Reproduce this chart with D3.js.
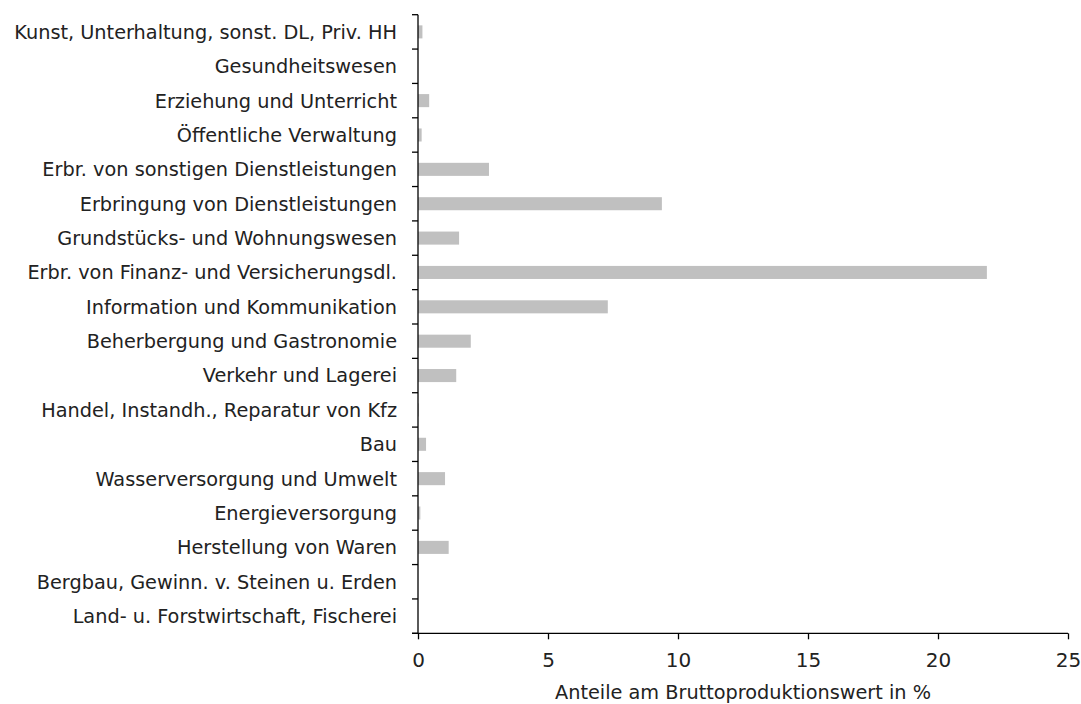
<!DOCTYPE html>
<html>
<head>
<meta charset="utf-8">
<script src="https://cdn.jsdelivr.net/npm/d3@7"></script>
<style>
  html, body { margin: 0; padding: 0; background: #fff; }
  svg { display: block; }
  text { font-family: "DejaVu Sans", sans-serif; fill: #222; }
</style>
</head>
<body>
<svg id="chart" width="1081" height="704"></svg>
<script>
// Wirtschaftsbereiche (von unten nach oben)
const categories = [
  "Land- u. Forstwirtschaft, Fischerei",
  "Bergbau, Gewinn. v. Steinen u. Erden",
  "Herstellung von Waren",
  "Energieversorgung",
  "Wasserversorgung und Umwelt",
  "Bau",
  "Handel, Instandh., Reparatur von Kfz",
  "Verkehr und Lagerei",
  "Beherbergung und Gastronomie",
  "Information und Kommunikation",
  "Erbr. von Finanz- und Versicherungsdl.",
  "Grundstücks- und Wohnungswesen",
  "Erbringung von Dienstleistungen",
  "Erbr. von sonstigen Dienstleistungen",
  "Öffentliche Verwaltung",
  "Erziehung und Unterricht",
  "Gesundheitswesen",
  "Kunst, Unterhaltung, sonst. DL, Priv. HH"
];

// Anteile am Bruttoproduktionswert in %
const shares = [
  0.0, 0.0, 1.18, 0.09, 1.04, 0.31, 0.03, 1.47, 2.03, 7.3,
  21.88, 1.58, 9.38, 2.73, 0.14, 0.43, 0.0, 0.17
];

const xTicks = [0, 5, 10, 15, 20, 25];
const xTitle = "Anteile am Bruttoproduktionswert in %";

const svg = d3.select("#chart");
const margin = { left: 418, right: 13, top: 14.7, bottom: 70.7 };
const W = 1081, H = 704;
const fontSize = 19.3;

const x = d3.scaleLinear()
  .domain([0, 25])
  .range([margin.left, W - margin.right]);

const y = d3.scaleBand()
  .domain(categories.slice().reverse())
  .range([margin.top, H - margin.bottom])
  .paddingInner(0.62)
  .paddingOuter(0.31);

// Category boundaries for the y tick marks
const yBand = d3.scaleLinear()
  .domain([0, categories.length])
  .range([margin.top, H - margin.bottom]);

// Bars
svg.append("g")
  .selectAll("rect")
  .data(categories.map((c, i) => ({ c, v: shares[i] })))
  .join("rect")
  .attr("x", x(0))
  .attr("y", d => y(d.c))
  .attr("width", d => x(d.v) - x(0))
  .attr("height", y.bandwidth())
  .attr("fill", "#c0c0c0");

// Y axis: line with ticks between categories
const yAxis = svg.append("g");
yAxis.append("line")
  .attr("x1", x(0)).attr("x2", x(0))
  .attr("y1", margin.top).attr("y2", H - margin.bottom)
  .attr("stroke", "#000").attr("stroke-width", 1.3);
yAxis.selectAll("line.tick")
  .data(d3.range(categories.length + 1))
  .join("line")
  .attr("class", "tick")
  .attr("x1", x(0) - 6).attr("x2", x(0))
  .attr("y1", d => yBand(d)).attr("y2", d => yBand(d))
  .attr("stroke", "#000").attr("stroke-width", 1.3);

// Category labels
svg.append("g")
  .selectAll("text")
  .data(categories)
  .join("text")
  .attr("x", 397)
  .attr("y", d => y(d) + y.bandwidth() / 2)
  .attr("dy", "0.36em")
  .attr("text-anchor", "end")
  .attr("font-size", fontSize)
  .text(d => d);

// X axis
const xAxis = svg.append("g")
  .attr("transform", `translate(0,${H - margin.bottom})`)
  .call(d3.axisBottom(x).tickValues(xTicks).tickSize(6).tickPadding(14).tickSizeOuter(0));
xAxis.select(".domain").attr("stroke", "#000").attr("stroke-width", 1.3)
  .attr("d", `M${x(0) - 6},0H${x(25)}`);
xAxis.selectAll(".tick line").attr("stroke", "#000").attr("stroke-width", 1.3);
xAxis.selectAll(".tick text")
  .attr("font-size", 20)
  .attr("font-family", "'DejaVu Sans', sans-serif")
  .attr("fill", "#222");

// X axis title
svg.append("text")
  .attr("x", (x(0) + x(25)) / 2)
  .attr("y", 699)
  .attr("text-anchor", "middle")
  .attr("font-size", fontSize)
  .text(xTitle);
</script>
</body>
</html>
